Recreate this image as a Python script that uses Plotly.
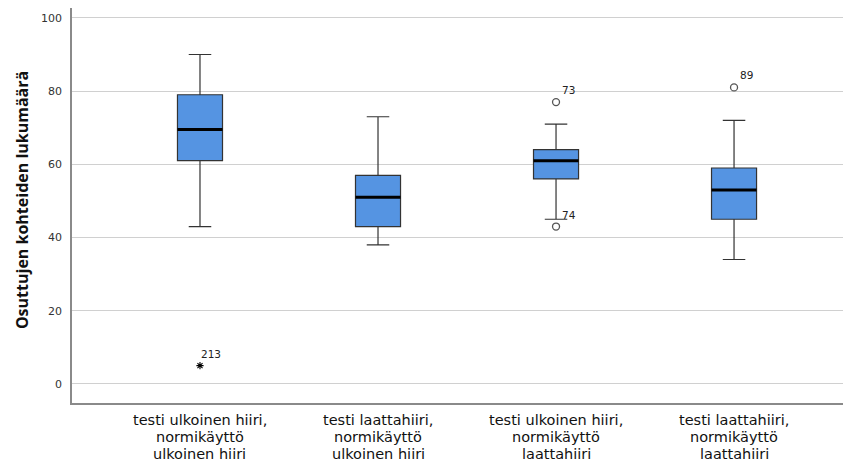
import plotly.graph_objects as go

categories = [
    "testi ulkoinen hiiri,<br>normikäyttö<br>ulkoinen hiiri",
    "testi laattahiiri,<br>normikäyttö<br>ulkoinen hiiri",
    "testi ulkoinen hiiri,<br>normikäyttö<br>laattahiiri",
    "testi laattahiiri,<br>normikäyttö<br>laattahiiri",
]
lower_whisker = [43, 38, 45, 34]
q1 = [61, 43, 56, 45]
median = [69.5, 51, 61, 53]
q3 = [79, 57, 64, 59]
upper_whisker = [90, 73, 71, 72]

# outliers (category index, value, case label)
outlier_cat = [2, 2, 3]
outlier_val = [77, 43, 81]
outlier_lbl = ["73", "74", "89"]
extreme_cat = [0]
extreme_val = [5]
extreme_lbl = ["213"]

yticks = [0, 20, 40, 60, 80, 100]
y_title = "Osuttujen kohteiden lukumäärä"

pos = list(range(len(categories)))
box_w = 0.253
fill = "#5594e2"

fig = go.Figure()
fig.add_trace(go.Box(
    x=pos, q1=q1, median=median, q3=q3,
    lowerfence=lower_whisker, upperfence=upper_whisker,
    width=box_w, whiskerwidth=0.5,
    fillcolor=fill, line=dict(color="#333333", width=1.2),
    boxpoints=False, showlegend=False, hoverinfo="skip",
))
for i, m in zip(pos, median):
    fig.add_trace(go.Scatter(
        x=[i - box_w / 2, i + box_w / 2], y=[m, m], mode="lines",
        line=dict(color="black", width=3), showlegend=False, hoverinfo="skip",
    ))
fig.add_trace(go.Scatter(
    x=outlier_cat, y=outlier_val, mode="markers",
    marker=dict(symbol="circle-open", size=7, color="#555", line=dict(width=1.3)),
    showlegend=False, hoverinfo="skip",
))
fig.add_trace(go.Scatter(
    x=extreme_cat, y=extreme_val, mode="markers",
    marker=dict(symbol="asterisk-open", size=6, color="black", line=dict(width=1.1)),
    showlegend=False, hoverinfo="skip",
))
label_font = dict(family="DejaVu Sans", size=10.5, color="#222")
for c, v, t in zip(outlier_cat, outlier_val, outlier_lbl):
    fig.add_annotation(x=c, y=v, text=t, showarrow=False, xanchor="left", yanchor="bottom",
                       xshift=4, yshift=4, font=label_font)
for c, v, t in zip(extreme_cat, extreme_val, extreme_lbl):
    fig.add_annotation(x=c, y=v, text=t, showarrow=False, xanchor="left", yanchor="bottom",
                       xshift=-1, yshift=4, font=label_font)

# category labels, one annotation per line to get the tight line spacing
for i, cat in zip(pos, categories):
    for j, line in enumerate(cat.split("<br>")):
        fig.add_annotation(
            x=i, xref="x", y=0, yref="paper", text=line, showarrow=False,
            xanchor="center", yanchor="middle", yshift=-17 - 17 * j, borderpad=0,
            font=dict(family="DejaVu Sans", size=14.5, color="#111"),
        )

fig.add_annotation(
    xref="paper", yref="paper", x=-0.064, y=0.514, text="<b>" + y_title + "</b>",
    textangle=-90, showarrow=False, xanchor="center", yanchor="middle",
    font=dict(family="Open Sans", size=16, color="#111"),
)

# page body has an 8px margin: size the figure so the plot lands where the reference has it
fig.update_layout(
    width=843, height=458,
    margin=dict(l=64, r=0, t=0, b=63, autoexpand=False),
    paper_bgcolor="white", plot_bgcolor="white",
    font=dict(family="DejaVu Sans", color="#222"),
)
fig.update_xaxes(
    range=[-0.719, 3.657], tickmode="array", tickvals=pos, showticklabels=False,
    showgrid=False, zeroline=False, showline=True, linecolor="#8a8a8a", linewidth=1.5,
    ticks="", automargin=False,
)
fig.update_yaxes(
    range=[-5.2, 102.7], tickmode="array", tickvals=yticks,
    showgrid=True, gridcolor="#d0d0d0", gridwidth=1, zeroline=False,
    showline=True, linecolor="#8a8a8a", linewidth=1.5,
    tickfont=dict(family="DejaVu Sans", size=11, color="#333"),
    ticks="", ticklabelstandoff=6, automargin=False,
)
fig.write_html("out.html")
